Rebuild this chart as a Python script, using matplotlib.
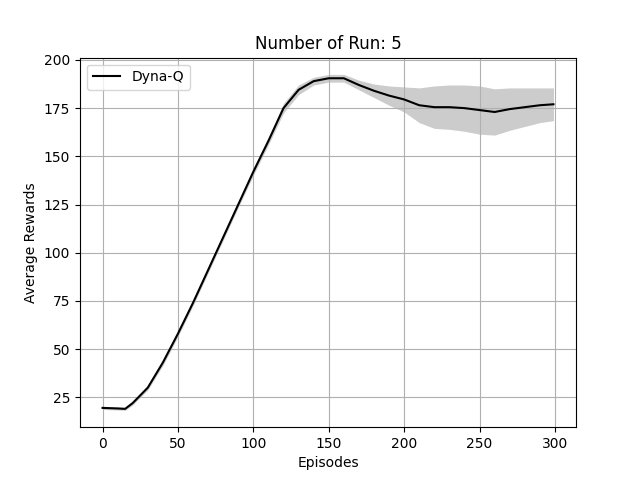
import numpy as np
import matplotlib
matplotlib.use("Agg")
import matplotlib.pyplot as plt

episodes = [0, 10, 15, 20, 30, 40, 50, 60, 70, 80, 90, 100, 110, 120, 130, 140, 150,
            160, 170, 180, 190, 200, 210, 220, 230, 240, 250, 260, 270, 280, 290, 299]
mean_reward = [19.5, 19.2, 19.0, 22.0, 30.0, 43.0, 58.0, 74.0, 91.0, 108.0, 125.0, 142.0,
               158.0, 175.0, 184.5, 189.0, 190.5, 190.5, 187.0, 184.0, 181.5, 179.5, 176.5,
               175.5, 175.5, 175.0, 174.0, 173.0, 174.5, 175.5, 176.5, 177.0]
std_reward = [0.8, 0.8, 0.8, 1.0, 1.2, 1.5, 1.5, 1.5, 1.5, 1.5, 1.5, 1.8,
              2.0, 2.5, 2.5, 2.0, 2.0, 2.0, 2.5, 3.5, 5.0, 6.5, 9.0,
              11.0, 11.5, 12.0, 12.5, 12.0, 11.0, 10.0, 9.0, 8.5]

x = np.array(episodes)
m = np.array(mean_reward)
s = np.array(std_reward)

fig, ax = plt.subplots(figsize=(6.4, 4.8), dpi=100)
ax.fill_between(x, m - s, m + s, color="#cccccc", linewidth=0)
ax.plot(x, m, color="black", label="Dyna-Q")
ax.set_title("Number of Run: 5")
ax.set_xlabel("Episodes")
ax.set_ylabel("Average Rewards")
ax.grid(True)
ax.legend(loc="upper left")
fig.savefig("out.png")
